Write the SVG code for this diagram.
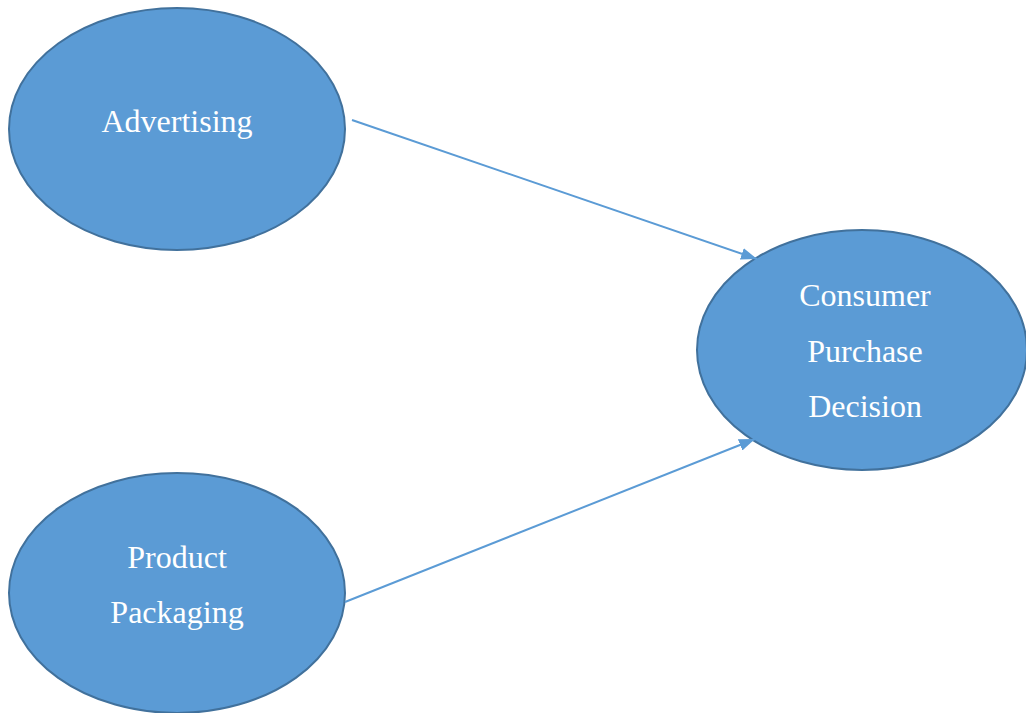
<svg xmlns="http://www.w3.org/2000/svg" width="1026" height="713" viewBox="0 0 1026 713">
  <style>
    .node { fill: #5B9BD5; stroke: #41719C; stroke-width: 2; }
    .label { fill: #FFFFFF; font-family: "Liberation Serif", "Times New Roman", serif; font-size: 32px; text-anchor: middle; }
    .edge { stroke: #5B9BD5; stroke-width: 2; fill: none; marker-end: url(#arrow); }
  </style>
  <defs>
    <marker id="arrow" markerWidth="16" markerHeight="12" refX="16" refY="6" orient="auto" markerUnits="userSpaceOnUse" viewBox="0 0 16 12">
      <path d="M0,0 L16,6 L0,12 Z" fill="#5B9BD5"/>
    </marker>
  </defs>
  <rect width="1026" height="713" fill="#FFFFFF"/>

  <g id="advertising">
    <ellipse class="node" cx="177" cy="129" rx="168" ry="121"/>
    <text class="label" x="177" y="132">Advertising</text>
  </g>

  <g id="consumer-purchase-decision">
    <ellipse class="node" cx="862" cy="350" rx="165" ry="120"/>
    <text class="label" x="865" y="306">Consumer</text>
    <text class="label" x="865" y="362">Purchase</text>
    <text class="label" x="865" y="417">Decision</text>
  </g>

  <g id="product-packaging">
    <ellipse class="node" cx="177" cy="593" rx="168" ry="120"/>
    <text class="label" x="177" y="568">Product</text>
    <text class="label" x="177" y="623">Packaging</text>
  </g>

  <g id="connectors">
    <line class="edge" x1="352" y1="120" x2="757" y2="259"/>
    <line class="edge" x1="345" y1="602" x2="755" y2="439"/>
  </g>
</svg>
